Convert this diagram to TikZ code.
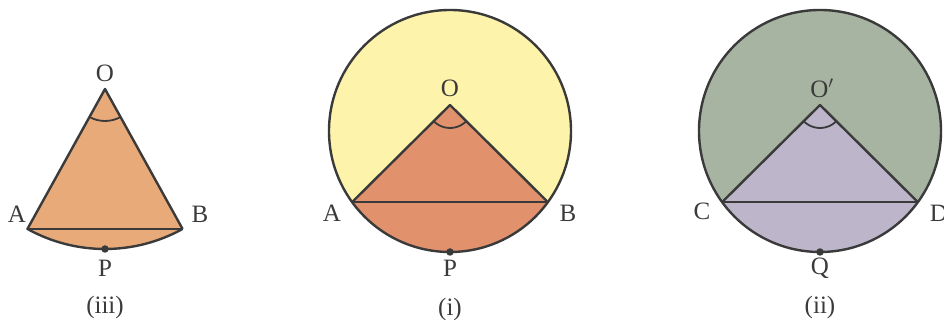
\documentclass[tikz,border=0pt]{standalone}
\usepackage{fontspec}
\setmainfont{Liberation Serif}
\usetikzlibrary{calc}
\definecolor{edge}{HTML}{3A3A3A}
\definecolor{yel}{HTML}{FEF3AB}
\definecolor{orA}{HTML}{E2916D}
\definecolor{orB}{HTML}{E9AA7A}
\definecolor{grn}{HTML}{A7B4A2}
\definecolor{lav}{HTML}{BDB6CB}
\tikzset{
  outline/.style={draw=edge, line width=2.4pt, line join=round},
  chordline/.style={draw=edge, line width=2.6pt},
  anglemark/.style={draw=edge, line width=1.8pt},
  lbl/.style={font=\fontsize{25}{29}\selectfont, text=edge, inner sep=0pt},
  figcaption/.style={font=\fontsize{25}{30}\selectfont, text=edge, inner sep=0pt},
  ptdot/.style={fill=edge, circle, inner sep=0pt, minimum size=7.5pt}
}
\begin{document}
\begin{tikzpicture}[x=1pt,y=1pt]
\useasboundingbox (0,0) rectangle (944,320);
% ---------- (iii) sector ----------
\coordinate (O3) at (105,231);
\coordinate (A3) at ($(O3)+(241:160)$);
\coordinate (B3) at ($(O3)+(299:160)$);
\coordinate (P3) at ($(O3)+(270:160)$);
\fill[orB] (O3) -- (A3) arc[start angle=241, end angle=299, radius=160] -- cycle;
\draw[outline] (B3) -- (O3) -- (A3) arc[start angle=241, end angle=299, radius=160];
\draw[chordline] (A3) -- (B3);
\draw[anglemark] ($(O3)+(241:32)$) arc[start angle=241, end angle=299, radius=32];
\node[ptdot] (p3dot) at (P3) {};
\node[lbl] (lO3) at (105,247) {O};
\node[lbl] (lA3) at (17,106) {A};
\node[lbl] (lB3) at (200,106) {B};
\node[lbl] (lP3) at (105,52) {P};
\node[figcaption] (c3) at (105,13) {(iii)};
% ---------- (i) circle ----------
\coordinate (C1) at (450,189);
\coordinate (O1) at (450,215);
\coordinate (A1) at ($(C1)+(216:121)$);
\coordinate (B1) at ($(C1)+(324:121)$);
\coordinate (P1) at ($(C1)+(270:121)$);
\fill[yel] (C1) circle[radius=121];
\fill[orA] (O1) -- (A1) arc[start angle=216, end angle=324, radius=121] -- cycle;
\draw[outline] (C1) circle[radius=121];
\draw[outline] (A1) -- (O1) -- (B1);
\draw[chordline] (A1) -- (B1);
\draw[anglemark] ($(O1)+(224.8:23)$) arc[start angle=224.8, end angle=315.2, radius=23];
\node[ptdot] (p1dot) at (P1) {};
\node[lbl] (lO1) at (450,232) {O};
\node[lbl] (lA1) at (332,107) {A};
\node[lbl] (lB1) at (568,107) {B};
\node[lbl] (lP1) at (450,52) {P};
\node[figcaption] (c1) at (450,11) {(i)};
% ---------- (ii) circle ----------
\coordinate (C2) at (820,189);
\coordinate (O2) at (820,215);
\coordinate (A2) at ($(C2)+(216:121)$);
\coordinate (B2) at ($(C2)+(324:121)$);
\coordinate (Q2) at ($(C2)+(270:121)$);
\fill[grn] (C2) circle[radius=121];
\fill[lav] (O2) -- (A2) arc[start angle=216, end angle=324, radius=121] -- cycle;
\draw[outline] (C2) circle[radius=121];
\draw[outline] (A2) -- (O2) -- (B2);
\draw[chordline] (A2) -- (B2);
\draw[anglemark] ($(O2)+(224.8:23)$) arc[start angle=224.8, end angle=315.2, radius=23];
\node[ptdot] (q2dot) at (Q2) {};
\node[lbl] (lO2) at (822,232) {O$'$};
\node[lbl] (lC2) at (702,109) {C};
\node[lbl] (lD2) at (939,107) {D};
\node[lbl] (lQ2) at (820,52) {Q};
\node[figcaption] (c2) at (820,13) {(ii)};
\end{tikzpicture}
\end{document}
